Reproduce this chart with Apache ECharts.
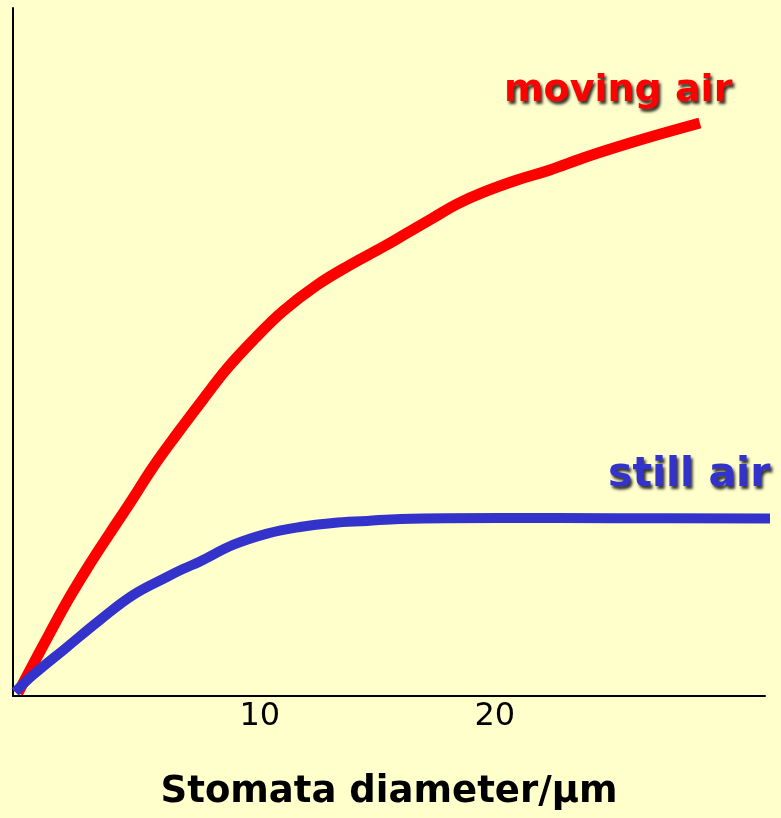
<!DOCTYPE html>
<html>
<head>
<meta charset="utf-8">
<script src="https://cdn.jsdelivr.net/npm/echarts@6/dist/echarts.min.js"></script>
<style>
html,body{margin:0;padding:0;background:#FFFFCC;}
#chart{width:781px;height:818px;}
</style>
</head>
<body>
<div id="chart"></div>
<script>
// Stomata diameter (µm) vs diffusion rate (arbitrary units)
var movingAirX = [-0.29, 1.07, 1.84, 2.69, 3.63, 4.56, 5.46, 6.48, 7.54, 8.61, 9.80, 10.99, 12.44, 13.84, 15.24, 16.27, 17.37, 18.39, 19.50, 20.95, 22.35, 23.76, 25.20, 26.61, 28.73];
var movingAirY = [0.44, 9.16, 13.95, 18.75, 23.69, 28.49, 33.28, 38.10, 42.90, 47.60, 52.00, 55.95, 59.74, 62.65, 65.26, 67.30, 69.48, 71.50, 73.20, 75.00, 76.45, 78.20, 79.80, 81.25, 83.28];
var stillAirX = [-0.41, 0.35, 1.80, 3.20, 4.61, 6.05, 6.73, 7.46, 8.86, 10.31, 11.71, 13.12, 14.56, 15.97, 20.22, 25.0, 31.84];
var stillAirY = [0.58, 3.05, 7.12, 11.05, 14.68, 17.30, 18.45, 19.55, 21.95, 23.60, 24.56, 25.15, 25.44, 25.73, 25.87, 25.85, 25.80];
var xTickLabels = [10, 20];
var xAxisTitle = 'Stomata diameter/µm';
var seriesNames = ['moving air', 'still air'];

function pairs(xs, ys) { return xs.map(function (x, i) { return [x, ys[i]]; }); }

var fontFam = "'Comic Sans MS', 'DejaVu Sans', sans-serif";
var chart = echarts.init(document.getElementById('chart'));
chart.setOption({
  backgroundColor: '#FFFFCC',
  animation: false,
  grid: { left: 13, right: 16, top: 8, bottom: 122, containLabel: false },
  xAxis: {
    type: 'value', min: -0.5, max: 31.5,
    axisLine: { show: true, onZero: false, lineStyle: { color: '#000', width: 2 } },
    axisTick: { show: false },
    splitLine: { show: false },
    axisLabel: { customValues: xTickLabels, color: '#000', fontSize: 32, fontFamily: fontFam, margin: 5 },
    name: xAxisTitle, nameLocation: 'middle', nameGap: 78,
    nameTextStyle: { color: '#000', fontSize: 37, fontWeight: 'bold', fontFamily: fontFam }
  },
  yAxis: {
    type: 'value', min: 0, max: 100,
    axisLine: { show: true, onZero: false, lineStyle: { color: '#000', width: 2 } },
    axisTick: { show: false }, axisLabel: { show: false }, splitLine: { show: false }
  },
  series: [
    { name: seriesNames[0], type: 'line', data: pairs(movingAirX, movingAirY), smooth: 0.4, symbol: 'none', clip: false,
      lineStyle: { color: '#FF0000', width: 11, cap: 'butt' } },
    { name: seriesNames[1], type: 'line', data: pairs(stillAirX, stillAirY), smooth: 0.4, symbol: 'none', clip: false,
      lineStyle: { color: '#3333CC', width: 10, cap: 'butt' } }
  ],
  graphic: [
    { type: 'text', left: 504, top: 72, style: { text: seriesNames[0], fill: '#FF0000', fontSize: 38, fontWeight: 'bold', fontFamily: fontFam,
      textShadowColor: 'rgba(0,0,0,0.8)', textShadowOffsetX: 2, textShadowOffsetY: 3, textShadowBlur: 3 } },
    { type: 'text', left: 608, top: 455, style: { text: seriesNames[1], fill: '#3333CC', fontSize: 41, fontWeight: 'bold', fontFamily: fontFam,
      textShadowColor: 'rgba(0,0,0,0.8)', textShadowOffsetX: 2, textShadowOffsetY: 3, textShadowBlur: 3 } }
  ]
});
</script>
</body>
</html>
